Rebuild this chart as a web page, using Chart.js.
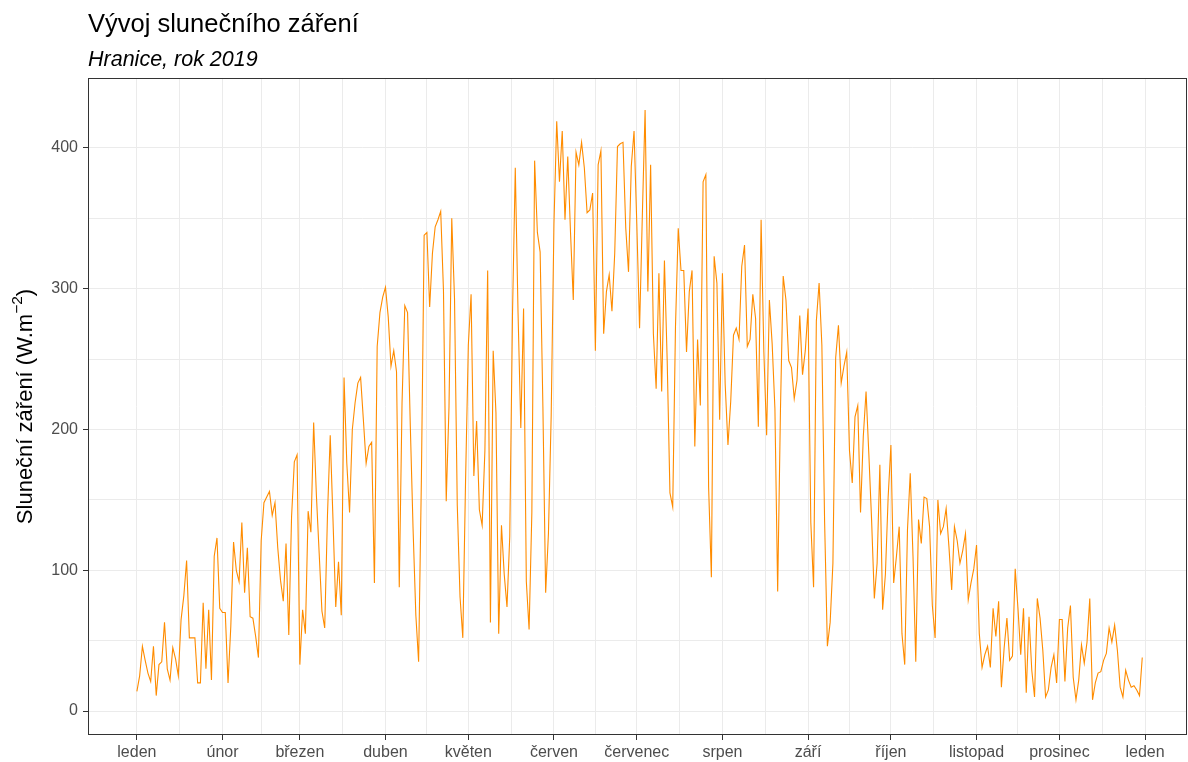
<!DOCTYPE html>
<html lang="cs">
<head>
<meta charset="utf-8">
<title>Vývoj slunečního záření</title>
<script src="https://cdn.jsdelivr.net/npm/chart.js@4"></script>
<style>
  html, body { margin: 0; padding: 0; background: #ffffff; }
  #graf { display: block; }
</style>
</head>
<body>
<canvas id="graf" width="1188" height="762"></canvas>
<script>
// Denní průměry slunečního záření (W.m-2), Hranice 2019
const leden    = [14, 25, 46, 36, 27, 21, 46, 11, 33, 35, 63, 30, 22, 45, 37, 25, 65, 82, 107, 52, 52, 52, 20, 20, 77, 30, 72, 22, 110, 123, 73];
const unor     = [70, 70, 20, 60, 120, 100, 92, 134, 84, 116, 67, 66, 53, 38, 121, 148, 152, 156, 139, 148, 116, 93, 78, 119, 54, 138, 177, 182];
const brezen   = [33, 72, 55, 142, 127, 205, 153, 112, 71, 59, 139, 196, 136, 74, 106, 68, 237, 176, 141, 200, 219, 233, 237, 207, 176, 188, 191, 91, 259, 283, 294];
const duben    = [301, 280, 245, 256, 241, 88, 219, 288, 283, 202, 129, 68, 35, 164, 338, 340, 287, 325, 344, 349, 355, 299, 149, 216, 350, 293, 146, 81, 52, 164];
const kveten   = [260, 296, 167, 206, 143, 132, 185, 313, 63, 256, 212, 55, 132, 97, 74, 124, 283, 386, 283, 201, 286, 92, 58, 141, 391, 340, 326, 216, 84, 126, 210];
const cerven   = [346, 419, 376, 412, 349, 394, 340, 292, 397, 388, 404, 386, 354, 356, 368, 256, 388, 398, 268, 298, 310, 284, 325, 401, 403, 404, 343, 312, 387, 412];
const cervenec = [346, 272, 352, 427, 298, 388, 268, 229, 311, 227, 320, 249, 155, 145, 273, 343, 313, 313, 255, 298, 313, 188, 264, 217, 376, 381, 159, 95, 323, 304, 207];
const srpen    = [311, 232, 189, 220, 267, 272, 264, 316, 331, 259, 264, 296, 279, 202, 349, 255, 196, 292, 261, 215, 85, 213, 309, 292, 249, 244, 222, 235, 281, 239, 256];
const zari     = [286, 134, 88, 277, 304, 260, 134, 46, 63, 105, 251, 274, 233, 245, 255, 185, 162, 209, 217, 141, 195, 227, 183, 136, 80, 105, 175, 72, 97, 152];
const rijen    = [189, 91, 110, 131, 55, 33, 129, 169, 110, 35, 136, 119, 152, 151, 131, 75, 52, 150, 126, 131, 144, 117, 86, 131, 121, 105, 114, 126, 79, 91, 101];
const listopad = [118, 55, 31, 40, 46, 31, 73, 53, 78, 17, 45, 66, 36, 39, 101, 73, 40, 73, 13, 67, 29, 10, 80, 66, 43, 10, 15, 31, 40, 20];
const prosinec = [65, 65, 21, 59, 75, 24, 8, 22, 47, 34, 49, 80, 8, 20, 27, 28, 36, 41, 59, 49, 61, 43, 17, 10, 29, 22, 17, 18, 15, 11, 38];

// popisky osy x a dny, kdy začíná měsíc
const mesice = ['leden', 'únor', 'březen', 'duben', 'květen', 'červen', 'červenec', 'srpen', 'září', 'říjen', 'listopad', 'prosinec', 'leden'];
const zacatkyMesicu = [0, 31, 59, 90, 120, 151, 181, 212, 243, 273, 304, 334, 365];
const yPopisky = [0, 100, 200, 300, 400];

const zareni = [].concat(leden, unor, brezen, duben, kveten, cerven, cervenec, srpen, zari, rijen, listopad, prosinec);
const body = zareni.map((v, i) => ({ x: i, y: v }));

// hlavní + vedlejší čáry mřížky (vedlejší = polovina mezi hlavními)
const xTicky = [];
zacatkyMesicu.forEach((d, i) => {
    xTicky.push(d);
    if (i < zacatkyMesicu.length - 1) xTicky.push((d + zacatkyMesicu[i + 1]) / 2);
});
const yTicky = [];
for (let i = 0; i < yPopisky.length; i++) {
    yTicky.push(yPopisky[i]);
    if (i < yPopisky.length - 1) yTicky.push((yPopisky[i] + yPopisky[i + 1]) / 2);
}

const FONT = "'Liberation Sans', Arial, sans-serif";

const textyPlugin = {
    id: 'texty',
    afterDraw(chart) {
        const ctx = chart.ctx;
        const a = chart.chartArea;
        ctx.save();
        // rámeček panelu
        ctx.strokeStyle = '#333333';
        ctx.lineWidth = 1;
        ctx.strokeRect(a.left + 0.5, a.top + 0.5, a.right - a.left - 1, a.bottom - a.top - 1);

        // nadpis a podnadpis
        ctx.fillStyle = '#000000';
        ctx.textAlign = 'left';
        ctx.textBaseline = 'alphabetic';
        ctx.font = '25.5px ' + FONT;
        ctx.fillText('Vývoj slunečního záření', 88, 32);
        ctx.font = 'italic 21.5px ' + FONT;
        ctx.fillText('Hranice, rok 2019', 88, 66);

        // název osy y s horním indexem
        ctx.translate(26, (a.top + a.bottom) / 2);
        ctx.rotate(-Math.PI / 2);
        const t1 = 'Sluneční záření (W.m', t2 = '−2', t3 = ')';
        ctx.font = '22px ' + FONT;
        const w1 = ctx.measureText(t1).width, w3 = ctx.measureText(t3).width;
        ctx.font = '15.5px ' + FONT;
        const w2 = ctx.measureText(t2).width;
        let x = -(w1 + w2 + w3) / 2;
        ctx.textBaseline = 'middle';
        ctx.font = '22px ' + FONT;
        ctx.fillText(t1, x, 0);
        ctx.font = '15.5px ' + FONT;
        ctx.fillText(t2, x + w1, -8);
        ctx.font = '22px ' + FONT;
        ctx.fillText(t3, x + w1 + w2, 0);
        ctx.restore();
    }
};

const jeHlavniX = v => zacatkyMesicu.includes(v);
const jeHlavniY = v => yPopisky.includes(v);

new Chart(document.getElementById('graf').getContext('2d'), {
    type: 'line',
    data: {
        datasets: [{
            data: body,
            borderColor: '#FF8C00',
            borderWidth: 1.1,
            pointRadius: 0,
            tension: 0,
            fill: false
        }]
    },
    options: {
        responsive: false,
        animation: false,
        layout: { padding: { top: 78, right: 1, left: 0, bottom: 0 } },
        plugins: { legend: { display: false }, tooltip: { enabled: false } },
        scales: {
            x: {
                type: 'linear',
                min: -17.7,
                max: 380.2,
                afterBuildTicks: s => { s.ticks = xTicky.map(v => ({ value: v })); },
                afterFit: s => { s.height = 27; },
                border: { display: false },
                grid: {
                    color: '#ebebeb',
                    lineWidth: 1,
                    tickLength: 5,
                    tickColor: c => jeHlavniX(c.tick && c.tick.value) ? '#333333' : 'rgba(0,0,0,0)'
                },
                ticks: {
                    autoSkip: false,
                    maxRotation: 0,
                    padding: 3,
                    color: '#4d4d4d',
                    font: { family: FONT, size: 16 },
                    callback: v => {
                        const i = zacatkyMesicu.indexOf(v);
                        return i >= 0 ? mesice[i] : '';
                    }
                }
            },
            y: {
                type: 'linear',
                min: -17,
                max: 449.7,
                afterBuildTicks: s => { s.ticks = yTicky.map(v => ({ value: v })); },
                afterFit: s => { s.width = 88; },
                border: { display: false },
                grid: {
                    color: '#ebebeb',
                    lineWidth: 1,
                    tickLength: 5,
                    tickColor: c => jeHlavniY(c.tick && c.tick.value) ? '#333333' : 'rgba(0,0,0,0)'
                },
                ticks: {
                    padding: 5,
                    color: '#4d4d4d',
                    font: { family: FONT, size: 16 },
                    callback: v => jeHlavniY(v) ? String(v) : ''
                }
            }
        }
    },
    plugins: [textyPlugin]
});
</script>
</body>
</html>
